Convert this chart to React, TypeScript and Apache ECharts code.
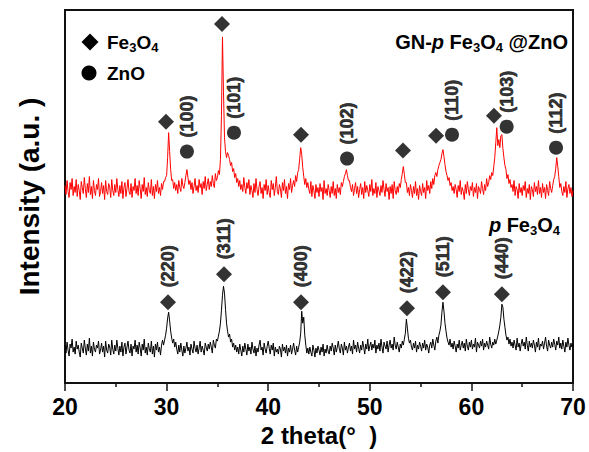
import React, { useEffect, useRef } from 'react';
import * as echarts from 'echarts';

const FONT = '"Liberation Sans", Arial, Helvetica, sans-serif';

// x axis
const xMin = 20;
const xMax = 70;
const xStep = 10;

// GN-pFe3O4@ZnO pattern: one row per degree, readings every 0.1° (row start = 20, 21, ...)
const redRows: number[][] = [
  [198,189,203,192,186,201,194,205,188,197],
  [191,204,187,199,193,184,202,196,190,206],
  [195,186,200,191,207,189,197,185,203,193],
  [188,199,194,205,187,192,201,190,198,184],
  [203,192,189,200,196,186,204,193,188,199],
  [191,205,194,187,198,190,202,185,196,201],
  [187,195,204,192,189,200,186,197,193,205],
  [190,198,188,203,195,185,199,192,206,189],
  [196,187,201,193,190,204,188,197,185,199],
  [192,203,190,196,188,200,194,202,202,206],
  [208,226,251,232,214,203,204,195,201,193],
  [199,190,203,196,192,205,198,195,201,208],
  [214,206,199,203,194,201,190,197,205,193],
  [198,191,204,196,200,189,202,195,207,193],
  [199,205,194,202,197,208,200,196,210,203],
  [206,213,209,224,268,347,292,246,232,226],
  [231,228,224,218,221,212,215,206,210,201],
  [205,197,203,194,199,192,206,196,190,201],
  [195,204,189,198,193,186,200,191,205,194],
  [188,197,202,190,196,185,199,193,204,189],
  [198,191,186,203,194,200,188,196,207,192],
  [189,199,195,186,201,193,204,190,197,185],
  [200,194,205,191,198,203,197,208,202,211],
  [214,225,236,229,216,207,199,205,196,201],
  [194,190,202,187,198,193,185,199,191,196],
  [187,200,192,196,184,203,190,195,188,199],
  [193,186,197,190,202,188,195,185,199,191],
  [196,189,201,197,202,207,210,214,208,203],
  [203,196,192,199,188,195,201,190,197,186],
  [194,200,189,196,185,202,191,198,193,187],
  [199,192,204,188,195,190,201,186,197,193],
  [188,198,191,203,194,187,200,192,196,184],
  [197,190,199,185,202,193,189,197,191,200],
  [196,204,210,217,209,201,201,191,196,188],
  [199,193,186,197,190,202,188,195,184,198],
  [192,188,200,191,196,185,203,193,198,190],
  [202,195,205,199,208,211,207,214,218,221],
  [224,230,234,227,219,212,208,203,206,198],
  [201,193,197,190,199,194,186,198,192,203],
  [189,196,192,184,199,190,202,194,188,197],
  [193,201,187,196,191,200,185,197,194,190],
  [202,195,189,199,193,205,197,201,208,204],
  [211,208,217,226,241,256,238,244,236,248],
  [249,235,226,218,214,205,209,200,204,196],
  [199,192,203,188,197,194,185,200,191,196],
  [188,198,193,202,186,195,190,199,184,197],
  [194,187,201,192,197,189,203,190,196,186],
  [200,191,196,185,199,193,188,202,195,191],
  [198,204,207,215,226,217,207,196,200,192],
  [188,197,191,202,186,195,199,190,196,187],
  [193],
];

// pFe3O4 pattern
const blackRows: number[][] = [
  [38,30,41,33,27,39,35,44,31,36],
  [29,42,34,38,31,26,40,35,30,43],
  [35,28,39,32,45,30,37,27,41,34],
  [31,38,35,42,29,33,40,31,37,26],
  [42,33,30,39,36,28,43,34,29,38],
  [32,43,35,28,37,31,41,27,36,40],
  [29,36,42,33,30,39,27,37,34,43],
  [31,38,29,41,35,27,39,33,44,30],
  [36,28,40,34,31,42,29,37,26,39],
  [33,41,31,36,28,38,43,38,43,48],
  [55,65,71,62,52,45,40,44,36,41],
  [34,29,38,31,40,33,27,37,30,35],
  [41,32,36,28,39,34,30,42,35,31],
  [38,29,35,42,31,37,33,28,40,36],
  [32,39,34,41,36,30,43,38,35,44],
  [42,47,52,60,73,88,97,90,74,60],
  [52,46,49,41,44,36,40,33,38,31],
  [36,29,39,33,27,37,31,40,34,28],
  [39,32,36,29,41,34,30,37,27,35],
  [31,38,43,33,36,28,40,34,30,37],
  [42,35,29,38,33,40,27,36,31,34],
  [29,37,34,26,39,32,36,30,38,27],
  [35,31,38,29,34,40,33,28,37,31],
  [36,41,50,72,60,66,48,38,30,35],
  [29,36,31,27,38,33,26,35,30,37],
  [33,28,36,31,39,27,34,30,38,32],
  [29,37,32,40,35,28,38,31,36,42],
  [34,30,39,35,28,41,33,37,30,36],
  [40,32,37,29,43,34,38,31,41,35],
  [30,38,33,42,36,29,39,34,44,32],
  [37,41,33,39,35,43,30,38,34,40],
  [32,44,36,30,41,37,34,42,31,38],
  [43,35,39,33,46,38,34,41,36,31],
  [39,35,42,38,44,50,64,55,45,40],
  [43,36,33,40,35,42,31,38,34,41],
  [37,32,40,35,43,33,39,36,30,38],
  [41,35,44,38,33,42,46,40,48,52],
  [58,71,81,72,60,52,45,41,38,44],
  [36,40,34,42,37,31,39,35,43,33],
  [38,42,35,40,32,44,37,33,41,36],
  [43,34,39,36,45,31,41,38,35,42],
  [37,44,33,40,36,42,38,34,46,39],
  [35,41,38,44,39,43,47,52,58,66],
  [79,76,64,56,48,43,46,39,44,37],
  [41,35,43,38,33,45,36,40,32,39],
  [44,37,41,34,46,38,32,42,36,40],
  [35,43,38,31,41,36,45,33,39,37],
  [42,34,40,46,37,32,43,38,35,41],
  [36,44,39,33,42,38,46,35,40,34],
  [43,37,31,41,36,45,38,33,40,36],
  [39],
];

// Fe3O4 reflection markers (2θ, height)
const fe3o4TopMarks: number[][] = [
  [29.94, 262], [35.45, 360], [43.23, 249], [53.27, 233], [56.52, 248], [62.22, 268],
];
const fe3o4BottomMarks: number[][] = [
  [30.14, 81], [35.65, 109], [43.23, 81], [53.66, 75], [57.2, 91], [63.0, 89],
];
const fe3o4Hkl = ['(220)', '(311)', '(400)', '(422)', '(511)', '(440)'];

// ZnO reflection markers
const znoMarks: number[][] = [
  [32.0, 232], [36.63, 251], [47.76, 225], [58.09, 249], [63.47, 257], [68.33, 236],
];
const znoHkl = ['(100)', '(101)', '(102)', '(110)', '(103)', '(112)'];

function rowsToData(rows: number[][]) {
  const out: number[][] = [];
  rows.forEach((row, r) => {
    row.forEach((v, j) => {
      out.push([Math.round((xMin + r + j / 10) * 10) / 10, v]);
    });
  });
  return out;
}

const hklLabel = {
  show: true,
  position: 'top' as const,
  distance: 7,
  rotate: 90,
  align: 'left' as const,
  verticalAlign: 'middle' as const,
  fontFamily: FONT,
  fontWeight: 700,
  fontSize: 18,
  color: '#000',
  textBorderColor: '#000',
  textBorderWidth: 0.6,
  formatter: (p: any) => p.name || '',
};

const richBase = (size: number) => ({
  a: { fontFamily: FONT, fontWeight: 'bold', fontSize: size, lineHeight: 24, color: '#000' },
  i: { fontFamily: FONT, fontWeight: 'bold', fontStyle: 'italic', fontSize: size, lineHeight: 24, color: '#000' },
  s: { fontFamily: FONT, fontWeight: 'bold', fontSize: 13, lineHeight: 13, verticalAlign: 'bottom', color: '#000' },
});

export default function App() {
  const ref = useRef<HTMLDivElement>(null);
  useEffect(() => {
    if (!ref.current) return;
    const chart = echarts.init(ref.current, undefined, { renderer: 'svg' });
    chart.setOption({
      animation: false,
      backgroundColor: '#fff',
      grid: { left: 65, right: 16, top: 10, bottom: 68, show: true, borderColor: '#111', borderWidth: 2 },
      xAxis: {
        type: 'value',
        min: xMin,
        max: xMax,
        interval: xStep,
        name: '2 theta(°  )',
        nameLocation: 'middle',
        nameGap: 40,
        nameTextStyle: { fontFamily: FONT, fontWeight: 'bold', fontSize: 24, color: '#000' },
        axisLine: { show: true, lineStyle: { color: '#111', width: 2 } },
        axisTick: { show: true, inside: false, length: 8, lineStyle: { color: '#111', width: 1.5 } },
        minorTick: { show: true, splitNumber: 2, length: 4, lineStyle: { color: '#111', width: 1.5 } },
        splitLine: { show: false },
        axisLabel: { margin: 12, fontFamily: FONT, fontWeight: 'bold', fontSize: 23, color: '#000' },
      },
      yAxis: {
        type: 'value',
        min: 0,
        max: 374,
        name: 'Intensity (a.u. )',
        nameLocation: 'middle',
        nameGap: 22,
        nameTextStyle: { fontFamily: FONT, fontWeight: 'bold', fontSize: 28, color: '#000' },
        axisLine: { show: true, lineStyle: { color: '#111', width: 2 } },
        axisTick: { show: false },
        axisLabel: { show: false },
        splitLine: { show: false },
      },
      graphic: [
        { type: 'polygon', shape: { points: [[90, 33.5], [98.5, 42], [90, 50.5], [81.5, 42]] }, style: { fill: '#000' } },
        { type: 'circle', shape: { cx: 89, cy: 73, r: 7.5 }, style: { fill: '#000' } },
        {
          type: 'text', x: 107, y: 42,
          style: { text: '{a|Fe}{s|3}{a|O}{s|4}', rich: richBase(19), align: 'left', verticalAlign: 'middle' },
        },
        {
          type: 'text', x: 107, y: 73,
          style: { text: '{a|ZnO}', rich: richBase(19), align: 'left', verticalAlign: 'middle' },
        },
        {
          type: 'text', x: 568, y: 42,
          style: { text: '{a|GN-}{i|p}{a| Fe}{s|3}{a|O}{s|4}{a| @ZnO}', rich: richBase(20), align: 'right', verticalAlign: 'middle' },
        },
        {
          type: 'text', x: 560, y: 225,
          style: { text: '{i|p}{a| Fe}{s|3}{a|O}{s|4}', rich: richBase(20), align: 'right', verticalAlign: 'middle' },
        },
      ],
      series: [
        {
          name: 'GN-pFe3O4@ZnO',
          type: 'line',
          data: rowsToData(redRows),
          showSymbol: false,
          symbol: 'none',
          lineStyle: { color: '#ff0000', width: 1 },
          z: 2,
        },
        {
          name: 'pFe3O4',
          type: 'line',
          data: rowsToData(blackRows),
          showSymbol: false,
          symbol: 'none',
          lineStyle: { color: '#000', width: 1 },
          z: 2,
        },
        {
          name: 'Fe3O4',
          type: 'scatter',
          symbol: 'diamond',
          symbolSize: [16, 16],
          itemStyle: { color: '#000' },
          label: hklLabel,
          data: [
            ...fe3o4TopMarks.map((v) => ({ value: v, name: '' })),
            ...fe3o4BottomMarks.map((v, i) => ({ value: v, name: fe3o4Hkl[i] })),
          ],
          z: 5,
        },
        {
          name: 'ZnO',
          type: 'scatter',
          symbol: 'circle',
          symbolSize: 14,
          itemStyle: { color: '#000' },
          label: hklLabel,
          data: znoMarks.map((v, i) => ({ value: v, name: znoHkl[i] })),
          z: 5,
        },
      ],
    });
    return () => chart.dispose();
  }, []);
  return <div ref={ref} style={{ position: 'fixed', left: 0, top: 0, width: 589, height: 452, background: '#fff' }} />;
}
